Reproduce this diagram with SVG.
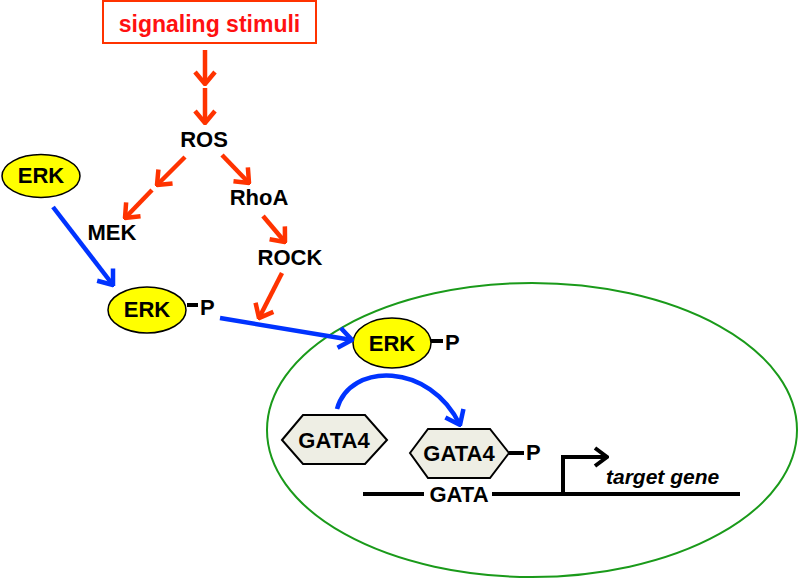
<svg xmlns="http://www.w3.org/2000/svg" width="800" height="579" viewBox="0 0 800 579">
<defs>
<marker id="hr" markerUnits="userSpaceOnUse" viewBox="-18 -14 20 28" markerWidth="20" markerHeight="28" refX="0" refY="0" orient="auto">
<path d="M-12,-10 L0,0 L-12,10" fill="none" stroke="#ff3300" stroke-width="4.5"/>
</marker>
<marker id="hb" markerUnits="userSpaceOnUse" viewBox="-18 -14 20 28" markerWidth="20" markerHeight="28" refX="0" refY="0" orient="auto">
<path d="M-13,-10 L0,0 L-13,10" fill="none" stroke="#0033ff" stroke-width="4.5"/>
</marker>
<marker id="hk" markerUnits="userSpaceOnUse" viewBox="-18 -14 20 28" markerWidth="20" markerHeight="28" refX="0" refY="0" orient="auto">
<path d="M-12,-9 L0,0 L-12,9" fill="none" stroke="#000" stroke-width="4"/>
</marker>
</defs>
<style>
text{font-family:"Liberation Sans",Arial,sans-serif;font-weight:bold;fill:#000;}
.lbl{font-size:22px;text-anchor:middle;}
.erk{fill:#ffff00;stroke:#000;stroke-width:1.5;}
.hex{fill:#eeeee4;stroke:#000;stroke-width:2;}
.red{stroke:#ff3300;stroke-width:4.5;fill:none;marker-end:url(#hr);}
.blue{stroke:#0033ff;stroke-width:4.5;fill:none;marker-end:url(#hb);}
.bar{stroke:#000;stroke-width:4;}
.p{font-size:22px;}
</style>
<g id="nucleus"><ellipse cx="532" cy="430" rx="265" ry="147" fill="none" stroke="#1a9a1a" stroke-width="2"/></g>
<g id="stimuli">
<rect x="103" y="1" width="213" height="42" fill="#fff" stroke="#ff3300" stroke-width="2"/>
<text x="209.5" y="32" class="lbl" style="fill:#ff1111;font-size:23px">signaling stimuli</text>
</g>
<g id="ros"><text x="204" y="147" class="lbl">ROS</text></g>
<g id="mek"><text x="112" y="240" class="lbl">MEK</text></g>
<g id="rhoa"><text x="259" y="205" class="lbl">RhoA</text></g>
<g id="rock"><text x="290" y="265" class="lbl">ROCK</text></g>
<g id="erk1"><ellipse class="erk" cx="41" cy="176" rx="39" ry="21.5"/><text x="41" y="183" class="lbl">ERK</text></g>
<g id="erkp1"><ellipse class="erk" cx="147" cy="310" rx="39" ry="23"/><text x="147" y="317" class="lbl">ERK</text>
<line class="bar" x1="187" y1="305" x2="198" y2="305"/><text x="200" y="315" class="p">P</text></g>
<g id="erkp2"><ellipse class="erk" cx="392" cy="343" rx="39" ry="25"/><text x="392" y="351" class="lbl">ERK</text>
<line class="bar" x1="431" y1="341" x2="443" y2="341"/><text x="445" y="350" class="p">P</text></g>
<g id="gata4a"><polygon class="hex" points="282,440 303,415 365,415 387,440 365,464 303,464"/><text x="334" y="448" class="lbl">GATA4</text></g>
<g id="gata4b"><polygon class="hex" points="410,453 428,429 490,429 509,453 490,478 428,478"/><text x="459" y="461" class="lbl">GATA4</text>
<line class="bar" x1="509" y1="453" x2="524" y2="453"/><text x="526" y="460" class="p">P</text></g>
<g id="dna">
<line class="bar" x1="363" y1="494" x2="424" y2="494"/>
<line class="bar" x1="492" y1="494" x2="740" y2="494"/>
<text x="459" y="502" class="lbl">GATA</text>
<text x="606" y="484" style="font-size:21px;font-style:italic">target gene</text>
</g>
<g id="connectors">
<line class="red" x1="205" y1="50" x2="205" y2="84"/>
<line class="red" x1="205" y1="88" x2="205" y2="123"/>
<line class="red" x1="185" y1="157" x2="157" y2="185"/>
<line class="red" x1="152" y1="190" x2="125" y2="218"/>
<line class="red" x1="222" y1="155" x2="249" y2="183"/>
<line class="red" x1="263" y1="216" x2="285" y2="242"/>
<line class="red" x1="282" y1="273" x2="259" y2="318"/>
<line class="blue" x1="53" y1="207" x2="113" y2="285"/>
<line class="blue" x1="220" y1="318" x2="352" y2="340"/>
<path class="blue" d="M337,409 C350,362 430,362 460,425"/>
<path d="M563,495 V457 H607" fill="none" stroke="#000" stroke-width="4" marker-end="url(#hk)"/>
</g>
</svg>
